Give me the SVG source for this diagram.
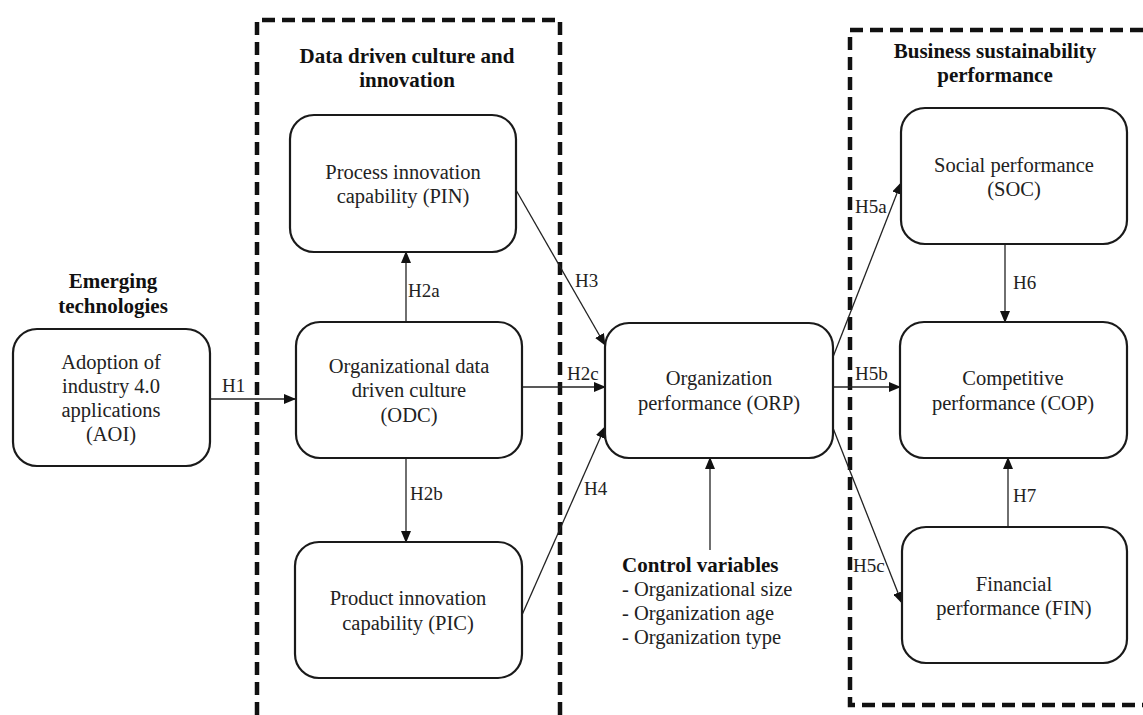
<svg xmlns="http://www.w3.org/2000/svg" width="1143" height="715" viewBox="0 0 1143 715" font-family="'Liberation Serif', 'DejaVu Serif', serif">
<defs>
<marker id="ah" markerWidth="12" markerHeight="10" refX="11" refY="5" orient="auto" markerUnits="userSpaceOnUse">
<path d="M0,0 L12,5 L0,10 Z" fill="#111"/>
</marker>
<style>
.box{fill:#fff;stroke:#1a1a1a;stroke-width:2.2}
.grp{fill:none;stroke:#111;stroke-width:4.5;stroke-dasharray:13 7}
.t{font-family:'Liberation Serif','DejaVu Serif',serif;font-size:20.5px;fill:#222;text-anchor:middle}
.s{font-family:'Liberation Serif','DejaVu Serif',serif;font-size:20.5px;fill:#222;text-anchor:start}
.b{font-family:'Liberation Serif','DejaVu Serif',serif;font-size:21px;font-weight:bold;fill:#111;text-anchor:middle}
.bs{font-family:'Liberation Serif','DejaVu Serif',serif;font-size:21px;font-weight:bold;fill:#111;text-anchor:start}
.lb{font-family:'Liberation Serif','DejaVu Serif',serif;font-size:19px;fill:#222;text-anchor:start}
.cn{fill:none;stroke:#222;stroke-width:1.3;marker-end:url(#ah)}
</style>
</defs>
<rect width="1143" height="715" fill="#fff"/>
<g id="groups">
<path class="grp" d="M257,715 V20 H560 V715"/>
<path class="grp" d="M1143,30 H850 V705 H1143"/>
<text class="b" x="113" y="288">Emerging</text>
<text class="b" x="113" y="313">technologies</text>
<text class="b" x="407" y="63">Data driven culture and</text>
<text class="b" x="407" y="87">innovation</text>
<text class="b" x="995" y="58">Business sustainability</text>
<text class="b" x="995" y="82">performance</text>
</g>
<g id="connectors">
<path class="cn" d="M210,399 L295,399"/>
<path class="cn" d="M406,322 L406,252"/>
<path class="cn" d="M406,458 L406,542"/>
<path class="cn" d="M522,387 L605,387"/>
<path class="cn" d="M516,190 L605,345"/>
<path class="cn" d="M522,615 L605,427"/>
<path class="cn" d="M833,357 L901,183"/>
<path class="cn" d="M833,387 L900,387"/>
<path class="cn" d="M833,428 L902,603"/>
<path class="cn" d="M1005,244 L1005,322"/>
<path class="cn" d="M1008,527 L1008,458"/>
<path class="cn" d="M710,550 L710,458"/>
<text class="lb" x="222" y="392">H1</text>
<text class="lb" x="408" y="297">H2a</text>
<text class="lb" x="410" y="500">H2b</text>
<text class="lb" x="567" y="380">H2c</text>
<text class="lb" x="575" y="287">H3</text>
<text class="lb" x="584" y="495">H4</text>
<text class="lb" x="855" y="213">H5a</text>
<text class="lb" x="855" y="380">H5b</text>
<text class="lb" x="853" y="572">H5c</text>
<text class="lb" x="1013" y="289">H6</text>
<text class="lb" x="1013" y="502">H7</text>
</g>
<g id="AOI">
<rect class="box" x="13" y="329" width="197" height="137" rx="24"/>
<text class="t" x="111" y="369">Adoption of</text>
<text class="t" x="111" y="393">industry 4.0</text>
<text class="t" x="111" y="417">applications</text>
<text class="t" x="111" y="441">(AOI)</text>
</g>
<g id="PIN">
<rect class="box" x="290" y="115" width="226" height="137" rx="24"/>
<text class="t" x="403" y="179">Process innovation</text>
<text class="t" x="403" y="203">capability (PIN)</text>
</g>
<g id="ODC">
<rect class="box" x="296" y="322" width="226" height="136" rx="24"/>
<text class="t" x="409" y="373">Organizational data</text>
<text class="t" x="409" y="397">driven culture</text>
<text class="t" x="409" y="422">(ODC)</text>
</g>
<g id="PIC">
<rect class="box" x="295" y="542" width="227" height="136" rx="24"/>
<text class="t" x="408" y="605">Product innovation</text>
<text class="t" x="408" y="630">capability (PIC)</text>
</g>
<g id="ORP">
<rect class="box" x="605" y="323" width="228" height="135" rx="24"/>
<text class="t" x="719" y="385">Organization</text>
<text class="t" x="719" y="410">performance (ORP)</text>
</g>
<g id="CTRL">
<text class="bs" x="622" y="572">Control variables</text>
<text class="s" x="622" y="596">- Organizational size</text>
<text class="s" x="622" y="620">- Organization age</text>
<text class="s" x="622" y="644">- Organization type</text>
</g>
<g id="SOC">
<rect class="box" x="901" y="108" width="226" height="136" rx="24"/>
<text class="t" x="1014" y="172">Social performance</text>
<text class="t" x="1014" y="196">(SOC)</text>
</g>
<g id="COP">
<rect class="box" x="900" y="322" width="227" height="136" rx="24"/>
<text class="t" x="1013" y="385">Competitive</text>
<text class="t" x="1013" y="410">performance (COP)</text>
</g>
<g id="FIN">
<rect class="box" x="902" y="527" width="225" height="136" rx="24"/>
<text class="t" x="1014" y="591">Financial</text>
<text class="t" x="1014" y="615">performance (FIN)</text>
</g>
</svg>
